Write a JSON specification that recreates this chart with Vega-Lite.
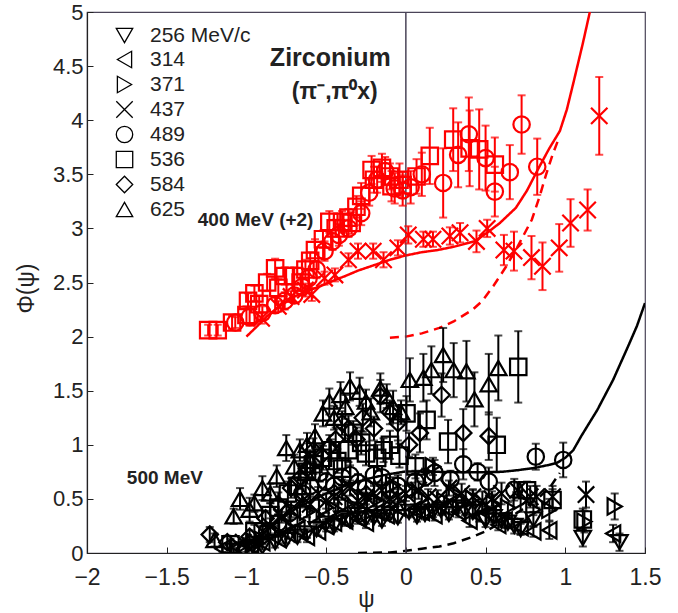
{
"$schema": "https://vega.github.io/schema/vega-lite/v6.json",
"width": 558, "height": 541,
"autosize": {"type": "none"},
"padding": {"left": 87, "top": 12, "right": 33, "bottom": 60},
"background": "white",
"config": {
 "view": {"stroke": "#4a4458", "strokeWidth": 1.2},
 "font": "Liberation Sans",
 "axis": {"grid": false, "labelFont": "Liberation Sans", "labelFontSize": 23, "labelColor": "#222", "titleFont": "Liberation Sans", "titleFontSize": 23, "titleFontWeight": "normal", "titleColor": "#222", "tickColor": "#222", "domainColor": "#222", "tickSize": -6, "tickWidth": 1, "domainWidth": 1.2}
},
"datasets": {
 "curves": [
  {"c":"rs","g":"r","s":"solid","x":-1.0,"y":2.0},{"c":"rs","g":"r","s":"solid","x":-0.93,"y":2.1},{"c":"rs","g":"r","s":"solid","x":-0.87,"y":2.19},{"c":"rs","g":"r","s":"solid","x":-0.8,"y":2.27},{"c":"rs","g":"r","s":"solid","x":-0.7,"y":2.37},{"c":"rs","g":"r","s":"solid","x":-0.6,"y":2.43},{"c":"rs","g":"r","s":"solid","x":-0.53,"y":2.47},{"c":"rs","g":"r","s":"solid","x":-0.45,"y":2.52},{"c":"rs","g":"r","s":"solid","x":-0.38,"y":2.56},{"c":"rs","g":"r","s":"solid","x":-0.3,"y":2.61},{"c":"rs","g":"r","s":"solid","x":-0.2,"y":2.66},{"c":"rs","g":"r","s":"solid","x":-0.1,"y":2.71},{"c":"rs","g":"r","s":"solid","x":0.0,"y":2.75},{"c":"rs","g":"r","s":"solid","x":0.1,"y":2.78},{"c":"rs","g":"r","s":"solid","x":0.2,"y":2.8},{"c":"rs","g":"r","s":"solid","x":0.3,"y":2.83},{"c":"rs","g":"r","s":"solid","x":0.43,"y":2.88},{"c":"rs","g":"r","s":"solid","x":0.51,"y":2.96},{"c":"rs","g":"r","s":"solid","x":0.59,"y":3.05},{"c":"rs","g":"r","s":"solid","x":0.69,"y":3.19},{"c":"rs","g":"r","s":"solid","x":0.76,"y":3.35},{"c":"rs","g":"r","s":"solid","x":0.83,"y":3.55},{"c":"rs","g":"r","s":"solid","x":0.9,"y":3.74},{"c":"rs","g":"r","s":"solid","x":0.966,"y":3.9},{"c":"rs","g":"r","s":"solid","x":1.01,"y":4.1},{"c":"rs","g":"r","s":"solid","x":1.05,"y":4.34},{"c":"rs","g":"r","s":"solid","x":1.11,"y":4.71},{"c":"rs","g":"r","s":"solid","x":1.154,"y":5.0},
  {"c":"rd","g":"r","s":"dash","x":-0.1,"y":1.99},{"c":"rd","g":"r","s":"dash","x":0.0,"y":2.0},{"c":"rd","g":"r","s":"dash","x":0.1,"y":2.03},{"c":"rd","g":"r","s":"dash","x":0.21,"y":2.08},{"c":"rd","g":"r","s":"dash","x":0.3,"y":2.14},{"c":"rd","g":"r","s":"dash","x":0.42,"y":2.25},{"c":"rd","g":"r","s":"dash","x":0.48,"y":2.33},{"c":"rd","g":"r","s":"dash","x":0.55,"y":2.47},{"c":"rd","g":"r","s":"dash","x":0.63,"y":2.65},{"c":"rd","g":"r","s":"dash","x":0.7,"y":2.83},{"c":"rd","g":"r","s":"dash","x":0.79,"y":3.08},{"c":"rd","g":"r","s":"dash","x":0.84,"y":3.3},{"c":"rd","g":"r","s":"dash","x":0.88,"y":3.5},{"c":"rd","g":"r","s":"dash","x":0.92,"y":3.68},{"c":"rd","g":"r","s":"dash","x":0.956,"y":3.82},
  {"c":"ks","g":"k","s":"solid","x":-1.0,"y":0.0},{"c":"ks","g":"k","s":"solid","x":-0.9,"y":0.17},{"c":"ks","g":"k","s":"solid","x":-0.8,"y":0.3},{"c":"ks","g":"k","s":"solid","x":-0.7,"y":0.4},{"c":"ks","g":"k","s":"solid","x":-0.6,"y":0.48},{"c":"ks","g":"k","s":"solid","x":-0.5,"y":0.55},{"c":"ks","g":"k","s":"solid","x":-0.4,"y":0.61},{"c":"ks","g":"k","s":"solid","x":-0.3,"y":0.66},{"c":"ks","g":"k","s":"solid","x":-0.2,"y":0.7},{"c":"ks","g":"k","s":"solid","x":-0.1,"y":0.73},{"c":"ks","g":"k","s":"solid","x":0.0,"y":0.754},{"c":"ks","g":"k","s":"solid","x":0.2,"y":0.75},{"c":"ks","g":"k","s":"solid","x":0.4,"y":0.745},{"c":"ks","g":"k","s":"solid","x":0.6,"y":0.75},{"c":"ks","g":"k","s":"solid","x":0.7,"y":0.765},{"c":"ks","g":"k","s":"solid","x":0.8,"y":0.785},{"c":"ks","g":"k","s":"solid","x":0.9,"y":0.815},{"c":"ks","g":"k","s":"solid","x":0.95,"y":0.835},{"c":"ks","g":"k","s":"solid","x":1.0,"y":0.88},{"c":"ks","g":"k","s":"solid","x":1.05,"y":0.95},{"c":"ks","g":"k","s":"solid","x":1.1,"y":1.08},{"c":"ks","g":"k","s":"solid","x":1.2,"y":1.32},{"c":"ks","g":"k","s":"solid","x":1.3,"y":1.6},{"c":"ks","g":"k","s":"solid","x":1.4,"y":1.93},{"c":"ks","g":"k","s":"solid","x":1.45,"y":2.1},{"c":"ks","g":"k","s":"solid","x":1.5,"y":2.31},
  {"c":"kd","g":"k","s":"dash","x":-0.3,"y":0.0},{"c":"kd","g":"k","s":"dash","x":-0.1,"y":0.005},{"c":"kd","g":"k","s":"dash","x":0.0,"y":0.02},{"c":"kd","g":"k","s":"dash","x":0.1,"y":0.04},{"c":"kd","g":"k","s":"dash","x":0.21,"y":0.06},{"c":"kd","g":"k","s":"dash","x":0.3,"y":0.09},{"c":"kd","g":"k","s":"dash","x":0.42,"y":0.15},{"c":"kd","g":"k","s":"dash","x":0.5,"y":0.2},{"c":"kd","g":"k","s":"dash","x":0.63,"y":0.31},{"c":"kd","g":"k","s":"dash","x":0.74,"y":0.41},{"c":"kd","g":"k","s":"dash","x":0.84,"y":0.52},{"c":"kd","g":"k","s":"dash","x":0.91,"y":0.62},{"c":"kd","g":"k","s":"dash","x":0.966,"y":0.74}
 ],
 "pts": [
  {"g":"r","p":"536","x":-1.24,"y":2.06,"lo":2.01,"hi":2.11},{"g":"r","p":"536","x":-1.18,"y":2.06,"lo":2.01,"hi":2.11},{"g":"r","p":"536","x":-1.09,"y":2.13,"lo":2.07,"hi":2.19},{"g":"r","p":"536","x":-0.99,"y":2.33,"lo":2.26,"hi":2.4},{"g":"r","p":"536","x":-0.95,"y":2.4,"lo":2.33,"hi":2.47},{"g":"r","p":"536","x":-0.87,"y":2.5,"lo":2.42,"hi":2.58},{"g":"r","p":"536","x":-0.82,"y":2.63,"lo":2.54,"hi":2.72},{"g":"r","p":"536","x":-0.76,"y":2.56,"lo":2.48,"hi":2.64},{"g":"r","p":"536","x":-0.7,"y":2.56,"lo":2.48,"hi":2.64},{"g":"r","p":"536","x":-0.63,"y":2.62,"lo":2.53,"hi":2.71},{"g":"r","p":"536","x":-0.57,"y":2.8,"lo":2.7,"hi":2.9},{"g":"r","p":"536","x":-0.48,"y":3.06,"lo":2.96,"hi":3.16},{"g":"r","p":"536","x":-0.4,"y":3.06,"lo":2.96,"hi":3.16},{"g":"r","p":"536","x":-0.34,"y":3.05,"lo":2.95,"hi":3.15},{"g":"r","p":"536","x":-0.28,"y":3.3,"lo":3.18,"hi":3.42},{"g":"r","p":"536","x":-0.215,"y":3.54,"lo":3.41,"hi":3.67},{"g":"r","p":"536","x":-0.15,"y":3.56,"lo":3.43,"hi":3.69},{"g":"r","p":"536","x":-0.09,"y":3.39,"lo":3.25,"hi":3.53},{"g":"r","p":"536","x":-0.04,"y":3.45,"lo":3.3,"hi":3.6},{"g":"r","p":"536","x":0.067,"y":3.48,"lo":3.32,"hi":3.64},{"g":"r","p":"536","x":0.15,"y":3.67,"lo":3.41,"hi":3.93},{"g":"r","p":"536","x":0.297,"y":3.82,"lo":3.53,"hi":4.11},{"g":"r","p":"536","x":0.4,"y":3.74,"lo":3.39,"hi":4.09},{"g":"r","p":"536","x":0.46,"y":3.73,"lo":3.36,"hi":4.1},{"g":"r","p":"536","x":0.558,"y":3.59,"lo":3.34,"hi":3.84},
  {"g":"r","p":"536","x":-1.0,"y":2.2,"lo":2.12,"hi":2.28},{"g":"r","p":"536","x":-0.92,"y":2.3,"lo":2.22,"hi":2.38},{"g":"r","p":"536","x":-0.8,"y":2.45,"lo":2.37,"hi":2.53},{"g":"r","p":"536","x":-0.66,"y":2.5,"lo":2.42,"hi":2.58},{"g":"r","p":"536","x":-0.6,"y":2.7,"lo":2.62,"hi":2.78},{"g":"r","p":"536","x":-0.52,"y":2.9,"lo":2.82,"hi":2.98},{"g":"r","p":"536","x":-0.44,"y":3.0,"lo":2.92,"hi":3.08},{"g":"r","p":"536","x":-0.36,"y":3.1,"lo":3.02,"hi":3.18},{"g":"r","p":"536","x":-0.31,"y":3.2,"lo":3.1,"hi":3.3},{"g":"r","p":"536","x":-0.2,"y":3.45,"lo":3.33,"hi":3.57},{"g":"r","p":"536","x":-0.1,"y":3.48,"lo":3.36,"hi":3.6},{"g":"r","p":"536","x":-0.02,"y":3.4,"lo":3.28,"hi":3.52},
  {"g":"r","p":"489","x":-1.07,"y":2.13,"lo":2.08,"hi":2.18},{"g":"r","p":"489","x":-0.9,"y":2.22,"lo":2.16,"hi":2.28},{"g":"r","p":"489","x":-0.82,"y":2.29,"lo":2.22,"hi":2.36},{"g":"r","p":"489","x":-0.7,"y":2.38,"lo":2.31,"hi":2.45},{"g":"r","p":"489","x":-0.61,"y":2.54,"lo":2.46,"hi":2.62},{"g":"r","p":"489","x":-0.51,"y":2.79,"lo":2.7,"hi":2.88},{"g":"r","p":"489","x":-0.42,"y":2.94,"lo":2.84,"hi":3.04},{"g":"r","p":"489","x":-0.28,"y":3.14,"lo":3.03,"hi":3.25},{"g":"r","p":"489","x":-0.23,"y":3.33,"lo":3.21,"hi":3.45},{"g":"r","p":"489","x":-0.13,"y":3.53,"lo":3.4,"hi":3.66},{"g":"r","p":"489","x":-0.07,"y":3.37,"lo":3.23,"hi":3.51},{"g":"r","p":"489","x":0.03,"y":3.38,"lo":3.23,"hi":3.53},{"g":"r","p":"489","x":0.234,"y":3.42,"lo":3.1,"hi":3.74},{"g":"r","p":"489","x":0.328,"y":3.68,"lo":3.38,"hi":3.98},{"g":"r","p":"489","x":0.395,"y":3.87,"lo":3.53,"hi":4.21},{"g":"r","p":"489","x":0.5,"y":3.65,"lo":3.35,"hi":3.95},{"g":"r","p":"489","x":0.558,"y":3.34,"lo":3.11,"hi":3.57},{"g":"r","p":"489","x":0.652,"y":3.52,"lo":3.27,"hi":3.77},{"g":"r","p":"489","x":0.726,"y":3.96,"lo":3.69,"hi":4.23},{"g":"r","p":"489","x":0.824,"y":3.57,"lo":3.31,"hi":3.83},
  {"g":"r","p":"489","x":-0.98,"y":2.18,"lo":2.1,"hi":2.26},{"g":"r","p":"489","x":-0.76,"y":2.33,"lo":2.25,"hi":2.41},{"g":"r","p":"489","x":-0.65,"y":2.46,"lo":2.38,"hi":2.54},{"g":"r","p":"489","x":-0.56,"y":2.62,"lo":2.54,"hi":2.7},{"g":"r","p":"489","x":-0.46,"y":2.88,"lo":2.8,"hi":2.96},{"g":"r","p":"489","x":-0.36,"y":3.0,"lo":2.92,"hi":3.08},{"g":"r","p":"489","x":-0.18,"y":3.45,"lo":3.33,"hi":3.57},{"g":"r","p":"489","x":-0.02,"y":3.35,"lo":3.21,"hi":3.49},{"g":"r","p":"489","x":0.1,"y":3.5,"lo":3.3,"hi":3.7},
  {"g":"r","p":"437","x":-0.905,"y":2.17,"lo":2.12,"hi":2.22},{"g":"r","p":"437","x":-0.8,"y":2.28,"lo":2.23,"hi":2.33},{"g":"r","p":"437","x":-0.72,"y":2.37,"lo":2.32,"hi":2.42},{"g":"r","p":"437","x":-0.63,"y":2.43,"lo":2.37,"hi":2.49},{"g":"r","p":"437","x":-0.59,"y":2.39,"lo":2.33,"hi":2.45},{"g":"r","p":"437","x":-0.51,"y":2.54,"lo":2.48,"hi":2.6},{"g":"r","p":"437","x":-0.445,"y":2.57,"lo":2.51,"hi":2.63},{"g":"r","p":"437","x":-0.36,"y":2.71,"lo":2.65,"hi":2.77},{"g":"r","p":"437","x":-0.3,"y":2.79,"lo":2.72,"hi":2.86},{"g":"r","p":"437","x":-0.205,"y":2.79,"lo":2.72,"hi":2.86},{"g":"r","p":"437","x":-0.14,"y":2.71,"lo":2.64,"hi":2.78},{"g":"r","p":"437","x":-0.05,"y":2.82,"lo":2.75,"hi":2.89},{"g":"r","p":"437","x":0.015,"y":2.94,"lo":2.86,"hi":3.02},{"g":"r","p":"437","x":0.11,"y":2.9,"lo":2.83,"hi":2.97},{"g":"r","p":"437","x":0.17,"y":2.9,"lo":2.83,"hi":2.97},{"g":"r","p":"437","x":0.276,"y":2.93,"lo":2.85,"hi":3.01},{"g":"r","p":"437","x":0.34,"y":2.96,"lo":2.87,"hi":3.05},{"g":"r","p":"437","x":0.443,"y":2.88,"lo":2.78,"hi":2.98},{"g":"r","p":"437","x":0.51,"y":3.0,"lo":2.92,"hi":3.08},{"g":"r","p":"437","x":0.615,"y":2.8,"lo":2.66,"hi":2.94},{"g":"r","p":"437","x":0.678,"y":2.79,"lo":2.61,"hi":2.97},{"g":"r","p":"437","x":0.788,"y":2.73,"lo":2.53,"hi":2.93},{"g":"r","p":"437","x":0.857,"y":2.65,"lo":2.43,"hi":2.87},{"g":"r","p":"437","x":0.962,"y":2.82,"lo":2.6,"hi":3.04},{"g":"r","p":"437","x":1.033,"y":3.05,"lo":2.83,"hi":3.27},{"g":"r","p":"437","x":1.14,"y":3.17,"lo":2.98,"hi":3.36},{"g":"r","p":"437","x":1.213,"y":4.04,"lo":3.68,"hi":4.4},
  {"g":"k","p":"256","x":-1.08,"y":0.02,"lo":-0.01,"hi":0.05},{"g":"k","p":"256","x":-0.9,"y":0.06,"lo":0.03,"hi":0.09},{"g":"k","p":"256","x":-0.75,"y":0.12,"lo":0.09,"hi":0.15},{"g":"k","p":"256","x":-0.62,"y":0.18,"lo":0.14,"hi":0.22},{"g":"k","p":"256","x":-0.5,"y":0.27,"lo":0.23,"hi":0.31},{"g":"k","p":"256","x":-0.4,"y":0.32,"lo":0.28,"hi":0.36},{"g":"k","p":"256","x":-0.3,"y":0.35,"lo":0.31,"hi":0.39},{"g":"k","p":"256","x":-0.2,"y":0.33,"lo":0.29,"hi":0.37},{"g":"k","p":"256","x":-0.1,"y":0.36,"lo":0.32,"hi":0.4},{"g":"k","p":"256","x":0.02,"y":0.38,"lo":0.33,"hi":0.43},{"g":"k","p":"256","x":0.12,"y":0.36,"lo":0.31,"hi":0.41},{"g":"k","p":"256","x":0.22,"y":0.4,"lo":0.35,"hi":0.45},{"g":"k","p":"256","x":0.32,"y":0.42,"lo":0.37,"hi":0.47},{"g":"k","p":"256","x":0.42,"y":0.38,"lo":0.32,"hi":0.44},{"g":"k","p":"256","x":0.5,"y":0.3,"lo":0.24,"hi":0.36},{"g":"k","p":"256","x":0.6,"y":0.3,"lo":0.24,"hi":0.36},{"g":"k","p":"256","x":0.68,"y":0.25,"lo":0.18,"hi":0.32},{"g":"k","p":"256","x":0.8,"y":0.31,"lo":0.24,"hi":0.38},{"g":"k","p":"256","x":1.11,"y":0.14,"lo":0.06,"hi":0.22},{"g":"k","p":"256","x":1.34,"y":0.1,"lo":0.02,"hi":0.18},
  {"g":"k","p":"256","x":-0.95,"y":0.04,"lo":-0.01,"hi":0.09},{"g":"k","p":"256","x":-0.82,"y":0.1,"lo":0.05,"hi":0.15},{"g":"k","p":"256","x":-0.68,"y":0.15,"lo":0.1,"hi":0.2},{"g":"k","p":"256","x":-0.56,"y":0.22,"lo":0.17,"hi":0.27},{"g":"k","p":"256","x":-0.45,"y":0.25,"lo":0.2,"hi":0.3},{"g":"k","p":"256","x":-0.35,"y":0.3,"lo":0.25,"hi":0.35},{"g":"k","p":"256","x":-0.25,"y":0.32,"lo":0.27,"hi":0.37},{"g":"k","p":"256","x":-0.15,"y":0.3,"lo":0.25,"hi":0.35},{"g":"k","p":"256","x":-0.05,"y":0.33,"lo":0.28,"hi":0.38},{"g":"k","p":"256","x":0.07,"y":0.34,"lo":0.29,"hi":0.39},{"g":"k","p":"256","x":0.17,"y":0.38,"lo":0.33,"hi":0.43},{"g":"k","p":"256","x":0.27,"y":0.36,"lo":0.31,"hi":0.41},{"g":"k","p":"256","x":0.37,"y":0.4,"lo":0.35,"hi":0.45},{"g":"k","p":"256","x":0.55,"y":0.33,"lo":0.28,"hi":0.38},{"g":"k","p":"256","x":0.64,"y":0.28,"lo":0.23,"hi":0.33},{"g":"k","p":"256","x":0.72,"y":0.22,"lo":0.17,"hi":0.27},
  {"g":"k","p":"314","x":-1.15,"y":0.04,"lo":0.01,"hi":0.07},{"g":"k","p":"314","x":-0.97,"y":0.07,"lo":0.04,"hi":0.1},{"g":"k","p":"314","x":-0.8,"y":0.13,"lo":0.09,"hi":0.17},{"g":"k","p":"314","x":-0.68,"y":0.22,"lo":0.18,"hi":0.26},{"g":"k","p":"314","x":-0.55,"y":0.2,"lo":0.16,"hi":0.24},{"g":"k","p":"314","x":-0.45,"y":0.28,"lo":0.23,"hi":0.33},{"g":"k","p":"314","x":-0.3,"y":0.32,"lo":0.27,"hi":0.37},{"g":"k","p":"314","x":-0.18,"y":0.38,"lo":0.33,"hi":0.43},{"g":"k","p":"314","x":-0.05,"y":0.42,"lo":0.37,"hi":0.47},{"g":"k","p":"314","x":0.1,"y":0.38,"lo":0.33,"hi":0.43},{"g":"k","p":"314","x":0.25,"y":0.42,"lo":0.36,"hi":0.48},{"g":"k","p":"314","x":0.4,"y":0.3,"lo":0.24,"hi":0.36},{"g":"k","p":"314","x":0.52,"y":0.36,"lo":0.3,"hi":0.42},{"g":"k","p":"314","x":0.62,"y":0.3,"lo":0.23,"hi":0.37},{"g":"k","p":"314","x":0.72,"y":0.24,"lo":0.17,"hi":0.31},{"g":"k","p":"314","x":0.9,"y":0.21,"lo":0.13,"hi":0.29},{"g":"k","p":"314","x":1.3,"y":0.18,"lo":0.1,"hi":0.26},
  {"g":"k","p":"314","x":-1.05,"y":0.05,"lo":0.0,"hi":0.1},{"g":"k","p":"314","x":-0.9,"y":0.1,"lo":0.05,"hi":0.15},{"g":"k","p":"314","x":-0.74,"y":0.18,"lo":0.13,"hi":0.23},{"g":"k","p":"314","x":-0.62,"y":0.15,"lo":0.1,"hi":0.2},{"g":"k","p":"314","x":-0.5,"y":0.25,"lo":0.2,"hi":0.3},{"g":"k","p":"314","x":-0.38,"y":0.3,"lo":0.25,"hi":0.35},{"g":"k","p":"314","x":-0.25,"y":0.28,"lo":0.23,"hi":0.33},{"g":"k","p":"314","x":-0.12,"y":0.35,"lo":0.3,"hi":0.4},{"g":"k","p":"314","x":0.05,"y":0.4,"lo":0.35,"hi":0.45},{"g":"k","p":"314","x":0.18,"y":0.35,"lo":0.3,"hi":0.4},{"g":"k","p":"314","x":0.33,"y":0.38,"lo":0.33,"hi":0.43},{"g":"k","p":"314","x":0.46,"y":0.34,"lo":0.29,"hi":0.39},{"g":"k","p":"314","x":0.58,"y":0.26,"lo":0.21,"hi":0.31},{"g":"k","p":"314","x":0.8,"y":0.2,"lo":0.15,"hi":0.25},
  {"g":"k","p":"371","x":-1.05,"y":0.05,"lo":0.01,"hi":0.09},{"g":"k","p":"371","x":-0.9,"y":0.12,"lo":0.08,"hi":0.16},{"g":"k","p":"371","x":-0.75,"y":0.25,"lo":0.2,"hi":0.3},{"g":"k","p":"371","x":-0.62,"y":0.38,"lo":0.33,"hi":0.43},{"g":"k","p":"371","x":-0.5,"y":0.42,"lo":0.37,"hi":0.47},{"g":"k","p":"371","x":-0.38,"y":0.45,"lo":0.39,"hi":0.51},{"g":"k","p":"371","x":-0.26,"y":0.5,"lo":0.44,"hi":0.56},{"g":"k","p":"371","x":-0.08,"y":0.63,"lo":0.56,"hi":0.7},{"g":"k","p":"371","x":0.04,"y":0.58,"lo":0.51,"hi":0.65},{"g":"k","p":"371","x":0.17,"y":0.8,"lo":0.72,"hi":0.88},{"g":"k","p":"371","x":0.3,"y":0.55,"lo":0.47,"hi":0.63},{"g":"k","p":"371","x":0.42,"y":0.5,"lo":0.42,"hi":0.58},{"g":"k","p":"371","x":0.55,"y":0.45,"lo":0.36,"hi":0.54},{"g":"k","p":"371","x":0.72,"y":0.48,"lo":0.38,"hi":0.58},{"g":"k","p":"371","x":0.9,"y":0.4,"lo":0.3,"hi":0.5},{"g":"k","p":"371","x":1.12,"y":0.29,"lo":0.19,"hi":0.39},{"g":"k","p":"371","x":1.31,"y":0.43,"lo":0.31,"hi":0.55},
  {"g":"k","p":"371","x":-0.95,"y":0.1,"lo":0.05,"hi":0.15},{"g":"k","p":"371","x":-0.82,"y":0.2,"lo":0.15,"hi":0.25},{"g":"k","p":"371","x":-0.68,"y":0.3,"lo":0.25,"hi":0.35},{"g":"k","p":"371","x":-0.56,"y":0.35,"lo":0.3,"hi":0.4},{"g":"k","p":"371","x":-0.44,"y":0.4,"lo":0.35,"hi":0.45},{"g":"k","p":"371","x":-0.32,"y":0.42,"lo":0.37,"hi":0.47},{"g":"k","p":"371","x":-0.2,"y":0.48,"lo":0.43,"hi":0.53},{"g":"k","p":"371","x":-0.14,"y":0.45,"lo":0.4,"hi":0.5},{"g":"k","p":"371","x":0.1,"y":0.5,"lo":0.45,"hi":0.55},{"g":"k","p":"371","x":0.24,"y":0.48,"lo":0.43,"hi":0.53},{"g":"k","p":"371","x":0.36,"y":0.47,"lo":0.42,"hi":0.52},{"g":"k","p":"371","x":0.48,"y":0.42,"lo":0.37,"hi":0.47},{"g":"k","p":"371","x":0.64,"y":0.42,"lo":0.37,"hi":0.47},{"g":"k","p":"371","x":0.8,"y":0.4,"lo":0.35,"hi":0.45},
  {"g":"k","p":"437","x":-1.02,"y":0.1,"lo":0.06,"hi":0.14},{"g":"k","p":"437","x":-0.9,"y":0.2,"lo":0.15,"hi":0.25},{"g":"k","p":"437","x":-0.78,"y":0.33,"lo":0.28,"hi":0.38},{"g":"k","p":"437","x":-0.65,"y":0.48,"lo":0.42,"hi":0.54},{"g":"k","p":"437","x":-0.55,"y":0.55,"lo":0.49,"hi":0.61},{"g":"k","p":"437","x":-0.45,"y":0.52,"lo":0.46,"hi":0.58},{"g":"k","p":"437","x":-0.35,"y":0.6,"lo":0.53,"hi":0.67},{"g":"k","p":"437","x":-0.25,"y":0.52,"lo":0.45,"hi":0.59},{"g":"k","p":"437","x":-0.15,"y":0.58,"lo":0.51,"hi":0.65},{"g":"k","p":"437","x":-0.05,"y":0.52,"lo":0.45,"hi":0.59},{"g":"k","p":"437","x":0.08,"y":0.58,"lo":0.5,"hi":0.66},{"g":"k","p":"437","x":0.2,"y":0.5,"lo":0.42,"hi":0.58},{"g":"k","p":"437","x":0.35,"y":0.55,"lo":0.46,"hi":0.64},{"g":"k","p":"437","x":0.48,"y":0.48,"lo":0.39,"hi":0.57},{"g":"k","p":"437","x":0.6,"y":0.55,"lo":0.45,"hi":0.65},{"g":"k","p":"437","x":0.78,"y":0.52,"lo":0.42,"hi":0.62},{"g":"k","p":"437","x":0.82,"y":0.52,"lo":0.42,"hi":0.62},{"g":"k","p":"437","x":0.92,"y":0.52,"lo":0.42,"hi":0.62},{"g":"k","p":"437","x":1.13,"y":0.54,"lo":0.42,"hi":0.66},
  {"g":"k","p":"437","x":-0.85,"y":0.25,"lo":0.18,"hi":0.32},{"g":"k","p":"437","x":-0.72,"y":0.4,"lo":0.33,"hi":0.47},{"g":"k","p":"437","x":-0.6,"y":0.45,"lo":0.38,"hi":0.52},{"g":"k","p":"437","x":-0.5,"y":0.48,"lo":0.41,"hi":0.55},{"g":"k","p":"437","x":-0.4,"y":0.56,"lo":0.49,"hi":0.63},{"g":"k","p":"437","x":-0.3,"y":0.48,"lo":0.41,"hi":0.55},{"g":"k","p":"437","x":-0.2,"y":0.55,"lo":0.48,"hi":0.62},{"g":"k","p":"437","x":-0.1,"y":0.5,"lo":0.43,"hi":0.57},{"g":"k","p":"437","x":0.0,"y":0.55,"lo":0.48,"hi":0.62},{"g":"k","p":"437","x":0.14,"y":0.52,"lo":0.45,"hi":0.59},{"g":"k","p":"437","x":0.27,"y":0.6,"lo":0.53,"hi":0.67},{"g":"k","p":"437","x":0.42,"y":0.52,"lo":0.45,"hi":0.59},{"g":"k","p":"437","x":0.54,"y":0.5,"lo":0.43,"hi":0.57},{"g":"k","p":"437","x":0.7,"y":0.58,"lo":0.51,"hi":0.65},
  {"g":"k","p":"489","x":-1.0,"y":0.05,"lo":0.01,"hi":0.09},{"g":"k","p":"489","x":-0.87,"y":0.2,"lo":0.15,"hi":0.25},{"g":"k","p":"489","x":-0.73,"y":0.37,"lo":0.31,"hi":0.43},{"g":"k","p":"489","x":-0.65,"y":0.55,"lo":0.48,"hi":0.62},{"g":"k","p":"489","x":-0.54,"y":0.74,"lo":0.66,"hi":0.82},{"g":"k","p":"489","x":-0.45,"y":0.62,"lo":0.54,"hi":0.7},{"g":"k","p":"489","x":-0.35,"y":0.72,"lo":0.63,"hi":0.81},{"g":"k","p":"489","x":-0.25,"y":0.6,"lo":0.51,"hi":0.69},{"g":"k","p":"489","x":-0.15,"y":0.7,"lo":0.6,"hi":0.8},{"g":"k","p":"489","x":-0.05,"y":0.62,"lo":0.52,"hi":0.72},{"g":"k","p":"489","x":0.06,"y":0.66,"lo":0.56,"hi":0.76},{"g":"k","p":"489","x":0.18,"y":0.74,"lo":0.62,"hi":0.86},{"g":"k","p":"489","x":0.36,"y":0.82,"lo":0.68,"hi":0.96},{"g":"k","p":"489","x":0.52,"y":0.66,"lo":0.53,"hi":0.79},{"g":"k","p":"489","x":0.68,"y":0.585,"lo":0.485,"hi":0.685},{"g":"k","p":"489","x":0.815,"y":0.89,"lo":0.77,"hi":1.01},{"g":"k","p":"489","x":0.987,"y":0.86,"lo":0.7,"hi":1.02},
  {"g":"k","p":"489","x":-0.8,"y":0.28,"lo":0.2,"hi":0.36},{"g":"k","p":"489","x":-0.6,"y":0.62,"lo":0.54,"hi":0.7},{"g":"k","p":"489","x":-0.5,"y":0.66,"lo":0.58,"hi":0.74},{"g":"k","p":"489","x":-0.4,"y":0.7,"lo":0.62,"hi":0.78},{"g":"k","p":"489","x":-0.3,"y":0.65,"lo":0.57,"hi":0.73},{"g":"k","p":"489","x":-0.2,"y":0.72,"lo":0.64,"hi":0.8},{"g":"k","p":"489","x":-0.1,"y":0.58,"lo":0.5,"hi":0.66},{"g":"k","p":"489","x":0.12,"y":0.7,"lo":0.62,"hi":0.78},{"g":"k","p":"489","x":0.28,"y":0.68,"lo":0.6,"hi":0.76},{"g":"k","p":"489","x":0.45,"y":0.75,"lo":0.67,"hi":0.83},
  {"g":"k","p":"536","x":-1.1,"y":0.08,"lo":0.03,"hi":0.13},{"g":"k","p":"536","x":-0.95,"y":0.2,"lo":0.14,"hi":0.26},{"g":"k","p":"536","x":-0.8,"y":0.42,"lo":0.35,"hi":0.49},{"g":"k","p":"536","x":-0.68,"y":0.62,"lo":0.54,"hi":0.7},{"g":"k","p":"536","x":-0.58,"y":0.82,"lo":0.73,"hi":0.91},{"g":"k","p":"536","x":-0.47,"y":0.95,"lo":0.85,"hi":1.05},{"g":"k","p":"536","x":-0.4,"y":0.78,"lo":0.68,"hi":0.88},{"g":"k","p":"536","x":-0.33,"y":1.11,"lo":1.0,"hi":1.22},{"g":"k","p":"536","x":-0.25,"y":0.92,"lo":0.81,"hi":1.03},{"g":"k","p":"536","x":-0.18,"y":0.88,"lo":0.76,"hi":1.0},{"g":"k","p":"536","x":-0.1,"y":1.0,"lo":0.87,"hi":1.13},{"g":"k","p":"536","x":0.004,"y":1.29,"lo":1.13,"hi":1.45},{"g":"k","p":"536","x":0.13,"y":1.23,"lo":1.05,"hi":1.41},{"g":"k","p":"536","x":0.265,"y":1.03,"lo":0.83,"hi":1.23},{"g":"k","p":"536","x":0.57,"y":1.0,"lo":0.75,"hi":1.25},{"g":"k","p":"536","x":0.705,"y":1.72,"lo":1.39,"hi":2.05},{"g":"k","p":"536","x":0.76,"y":0.58,"lo":0.5,"hi":0.66},{"g":"k","p":"536","x":0.92,"y":0.49,"lo":0.39,"hi":0.59},{"g":"k","p":"536","x":1.11,"y":0.31,"lo":0.21,"hi":0.41},
  {"g":"k","p":"536","x":-0.85,"y":0.35,"lo":0.24,"hi":0.46},{"g":"k","p":"536","x":-0.74,"y":0.55,"lo":0.44,"hi":0.66},{"g":"k","p":"536","x":-0.62,"y":0.75,"lo":0.64,"hi":0.86},{"g":"k","p":"536","x":-0.52,"y":0.88,"lo":0.77,"hi":0.99},{"g":"k","p":"536","x":-0.43,"y":0.85,"lo":0.74,"hi":0.96},{"g":"k","p":"536","x":-0.36,"y":0.95,"lo":0.84,"hi":1.06},{"g":"k","p":"536","x":-0.28,"y":1.02,"lo":0.91,"hi":1.13},{"g":"k","p":"536","x":-0.14,"y":0.95,"lo":0.84,"hi":1.06},{"g":"k","p":"536","x":-0.04,"y":0.9,"lo":0.79,"hi":1.01},{"g":"k","p":"536","x":0.06,"y":0.8,"lo":0.69,"hi":0.91},
  {"g":"k","p":"584","x":-1.23,"y":0.17,"lo":0.1,"hi":0.24},{"g":"k","p":"584","x":-1.12,"y":0.1,"lo":0.04,"hi":0.16},{"g":"k","p":"584","x":-0.98,"y":0.15,"lo":0.09,"hi":0.21},{"g":"k","p":"584","x":-0.88,"y":0.32,"lo":0.25,"hi":0.39},{"g":"k","p":"584","x":-0.72,"y":0.6,"lo":0.51,"hi":0.69},{"g":"k","p":"584","x":-0.62,"y":0.78,"lo":0.68,"hi":0.88},{"g":"k","p":"584","x":-0.53,"y":0.9,"lo":0.8,"hi":1.0},{"g":"k","p":"584","x":-0.44,"y":1.05,"lo":0.94,"hi":1.16},{"g":"k","p":"584","x":-0.36,"y":1.15,"lo":1.03,"hi":1.27},{"g":"k","p":"584","x":-0.27,"y":1.25,"lo":1.12,"hi":1.38},{"g":"k","p":"584","x":-0.16,"y":1.45,"lo":1.3,"hi":1.6},{"g":"k","p":"584","x":-0.05,"y":1.2,"lo":1.04,"hi":1.36},{"g":"k","p":"584","x":0.088,"y":1.11,"lo":0.93,"hi":1.29},{"g":"k","p":"584","x":0.224,"y":1.46,"lo":1.26,"hi":1.66},{"g":"k","p":"584","x":0.36,"y":1.11,"lo":0.89,"hi":1.33},{"g":"k","p":"584","x":0.52,"y":1.08,"lo":0.86,"hi":1.3},
  {"g":"k","p":"584","x":-0.8,"y":0.45,"lo":0.34,"hi":0.56},{"g":"k","p":"584","x":-0.66,"y":0.7,"lo":0.59,"hi":0.81},{"g":"k","p":"584","x":-0.58,"y":0.95,"lo":0.84,"hi":1.06},{"g":"k","p":"584","x":-0.48,"y":0.98,"lo":0.87,"hi":1.09},{"g":"k","p":"584","x":-0.4,"y":1.2,"lo":1.09,"hi":1.31},{"g":"k","p":"584","x":-0.31,"y":1.05,"lo":0.94,"hi":1.16},{"g":"k","p":"584","x":-0.2,"y":1.15,"lo":1.04,"hi":1.26},{"g":"k","p":"584","x":-0.1,"y":1.3,"lo":1.19,"hi":1.41},{"g":"k","p":"584","x":0.02,"y":1.0,"lo":0.89,"hi":1.11},
  {"g":"k","p":"625","x":-1.2,"y":0.12,"lo":0.06,"hi":0.18},{"g":"k","p":"625","x":-1.08,"y":0.34,"lo":0.27,"hi":0.41},{"g":"k","p":"625","x":-1.04,"y":0.5,"lo":0.4,"hi":0.6},{"g":"k","p":"625","x":-0.95,"y":0.46,"lo":0.38,"hi":0.54},{"g":"k","p":"625","x":-0.85,"y":0.55,"lo":0.46,"hi":0.64},{"g":"k","p":"625","x":-0.81,"y":0.71,"lo":0.61,"hi":0.81},{"g":"k","p":"625","x":-0.75,"y":0.97,"lo":0.85,"hi":1.09},{"g":"k","p":"625","x":-0.665,"y":0.95,"lo":0.85,"hi":1.05},{"g":"k","p":"625","x":-0.6,"y":0.85,"lo":0.75,"hi":0.95},{"g":"k","p":"625","x":-0.57,"y":1.08,"lo":0.97,"hi":1.19},{"g":"k","p":"625","x":-0.52,"y":1.29,"lo":1.17,"hi":1.41},{"g":"k","p":"625","x":-0.48,"y":1.4,"lo":1.28,"hi":1.52},{"g":"k","p":"625","x":-0.41,"y":1.46,"lo":1.34,"hi":1.58},{"g":"k","p":"625","x":-0.35,"y":1.54,"lo":1.41,"hi":1.67},{"g":"k","p":"625","x":-0.29,"y":1.49,"lo":1.36,"hi":1.62},{"g":"k","p":"625","x":-0.22,"y":1.3,"lo":1.17,"hi":1.43},{"g":"k","p":"625","x":-0.16,"y":1.52,"lo":1.38,"hi":1.66},{"g":"k","p":"625","x":-0.08,"y":1.35,"lo":1.2,"hi":1.5},{"g":"k","p":"625","x":0.025,"y":1.6,"lo":1.4,"hi":1.8},{"g":"k","p":"625","x":0.11,"y":1.62,"lo":1.4,"hi":1.84},{"g":"k","p":"625","x":0.16,"y":1.69,"lo":1.47,"hi":1.91},{"g":"k","p":"625","x":0.234,"y":1.83,"lo":1.58,"hi":2.08},{"g":"k","p":"625","x":0.3,"y":1.69,"lo":1.44,"hi":1.94},{"g":"k","p":"625","x":0.38,"y":1.68,"lo":1.4,"hi":1.96},{"g":"k","p":"625","x":0.43,"y":1.42,"lo":1.17,"hi":1.67},{"g":"k","p":"625","x":0.52,"y":1.56,"lo":1.28,"hi":1.84},{"g":"k","p":"625","x":0.58,"y":1.71,"lo":1.41,"hi":2.01},
  {"g":"k","p":"625","x":-0.7,"y":0.8,"lo":0.69,"hi":0.91},{"g":"k","p":"625","x":-0.62,"y":1.0,"lo":0.89,"hi":1.11},{"g":"k","p":"625","x":-0.45,"y":1.25,"lo":1.14,"hi":1.36},{"g":"k","p":"625","x":-0.38,"y":1.35,"lo":1.24,"hi":1.46},{"g":"k","p":"625","x":-0.25,"y":1.4,"lo":1.29,"hi":1.51},{"g":"k","p":"625","x":-0.12,"y":1.45,"lo":1.34,"hi":1.56},{"g":"k","p":"625","x":-0.03,"y":1.3,"lo":1.19,"hi":1.41},{"g":"k","p":"625","x":-0.9,"y":0.6,"lo":0.49,"hi":0.71},{"g":"k","p":"625","x":-0.98,"y":0.4,"lo":0.29,"hi":0.51}
 ]
},
"layer": [
 {"data": {"name": "curves"},
  "mark": {"type": "line", "strokeWidth": 2.5, "clip": true},
  "encoding": {
   "x": {"field": "x", "type": "quantitative", "scale": {"domain": [-2, 1.5], "nice": false, "zero": false},
         "axis": {"values": [-2, -1.5, -1, -0.5, 0, 0.5, 1, 1.5], "format": "~g", "labelPadding": 19, "labelFlush": false,
                  "labelExpr": "datum.value < 0 ? datum.label + '\u2007\u00a0' : datum.label",
                  "title": "ψ", "titleX": 279, "titleY": 35, "titleAlign": "center", "titleBaseline": "top"}},
   "y": {"field": "y", "type": "quantitative", "scale": {"domain": [0, 5], "nice": false, "zero": false},
         "axis": {"values": [0, 0.5, 1, 1.5, 2, 2.5, 3, 3.5, 4, 4.5, 5], "format": "~g", "labelPadding": 10, "labelOffset": 0, "labelFontSize": 22, "labelFlush": false,
                  "title": "Φ(ψ)", "titleX": -49, "titleY": 276, "titleAlign": "center", "titleAngle": -90, "titleBaseline": "bottom"}},
   "detail": {"field": "c"},
   "color": {"field": "g", "type": "nominal", "scale": {"domain": ["r", "k"], "range": ["#ff0000", "#000000"]}, "legend": null},
   "strokeDash": {"field": "s", "type": "nominal", "scale": {"domain": ["solid", "dash"], "range": [[1, 0], [9, 6]]}, "legend": null}
  }},
 {"data": {"values": [{"x": 0}]},
  "mark": {"type": "rule", "color": "#4a4458", "strokeWidth": 1.5},
  "encoding": {"x": {"field": "x", "type": "quantitative", "title": "ψ"}}},
 {"data": {"name": "pts"},
  "mark": {"type": "rule", "strokeWidth": 2, "clip": true},
  "encoding": {
   "x": {"field": "x", "type": "quantitative", "title": "ψ"},
   "y": {"field": "lo", "type": "quantitative", "title": "Φ(ψ)"},
   "y2": {"field": "hi"},
   "color": {"field": "g", "type": "nominal", "legend": null}
  }},
 {"data": {"name": "pts"},
  "mark": {"type": "tick", "orient": "horizontal", "size": 8, "thickness": 2, "clip": true},
  "encoding": {
   "x": {"field": "x", "type": "quantitative", "title": "ψ"},
   "y": {"field": "lo", "type": "quantitative", "title": "Φ(ψ)"},
   "color": {"field": "g", "type": "nominal", "legend": null}
  }},
 {"data": {"name": "pts"},
  "mark": {"type": "tick", "orient": "horizontal", "size": 8, "thickness": 2, "clip": true},
  "encoding": {
   "x": {"field": "x", "type": "quantitative", "title": "ψ"},
   "y": {"field": "hi", "type": "quantitative", "title": "Φ(ψ)"},
   "color": {"field": "g", "type": "nominal", "legend": null}
  }},
 {"data": {"name": "pts"},
  "mark": {"type": "point", "filled": false, "strokeWidth": 2.2, "opacity": 1, "clip": true},
  "encoding": {
   "x": {"field": "x", "type": "quantitative", "title": "ψ"},
   "y": {"field": "y", "type": "quantitative", "title": "Φ(ψ)"},
   "color": {"field": "g", "type": "nominal", "legend": null},
   "shape": {"field": "p", "type": "nominal",
     "scale": {"domain": ["256", "314", "371", "437", "489", "536", "584", "625"],
               "range": ["triangle-down", "triangle-left", "triangle-right", "M-1,-1L1,1M-1,1L1,-1", "circle", "square", "diamond", "triangle-up"]},
     "legend": {"orient": "none", "legendX": 27, "legendY": 13, "title": null, "padding": 0,
                "labelFont": "Liberation Sans", "labelFontSize": 21, "labelColor": "#222", "labelOffset": 15, "rowPadding": 2,
                "symbolStrokeColor": "#000000", "symbolFillColor": "transparent", "symbolStrokeWidth": 1.3,
                "labelExpr": "datum.label == '256' ? '256 MeV/c' : datum.label"}},
   "size": {"field": "p", "type": "nominal",
     "scale": {"domain": ["256", "314", "371", "437", "489", "536", "584", "625"],
               "range": [270, 270, 270, 70, 210, 140, 230, 270]}}
  }},
 {"data": {"values": [{"x": -0.853, "y": 4.578, "t": "Zirconium"}]},
  "mark": {"type": "text", "align": "left", "baseline": "middle", "fontSize": 25, "fontWeight": "bold", "font": "Liberation Sans", "color": "#222"},
  "encoding": {"x": {"field": "x", "type": "quantitative", "title": "ψ"}, "y": {"field": "y", "type": "quantitative", "title": "Φ(ψ)"}, "text": {"field": "t"}}},
 {"data": {"values": [{"x": -0.715, "y": 4.263, "t": "(π⁻,π⁰x)"}]},
  "mark": {"type": "text", "align": "left", "baseline": "middle", "fontSize": 23, "fontWeight": "bold", "font": "Liberation Sans", "color": "#222"},
  "encoding": {"x": {"field": "x", "type": "quantitative", "title": "ψ"}, "y": {"field": "y", "type": "quantitative", "title": "Φ(ψ)"}, "text": {"field": "t"}}},
 {"data": {"values": [{"x": -1.305, "y": 3.08, "t": "400 MeV (+2)"}, {"x": -1.75, "y": 0.696, "t": "500 MeV"}]},
  "mark": {"type": "text", "align": "left", "baseline": "middle", "fontSize": 19, "fontWeight": "bold", "font": "Liberation Sans", "color": "#222"},
  "encoding": {"x": {"field": "x", "type": "quantitative", "title": "ψ"}, "y": {"field": "y", "type": "quantitative", "title": "Φ(ψ)"}, "text": {"field": "t"}}}
]
}
